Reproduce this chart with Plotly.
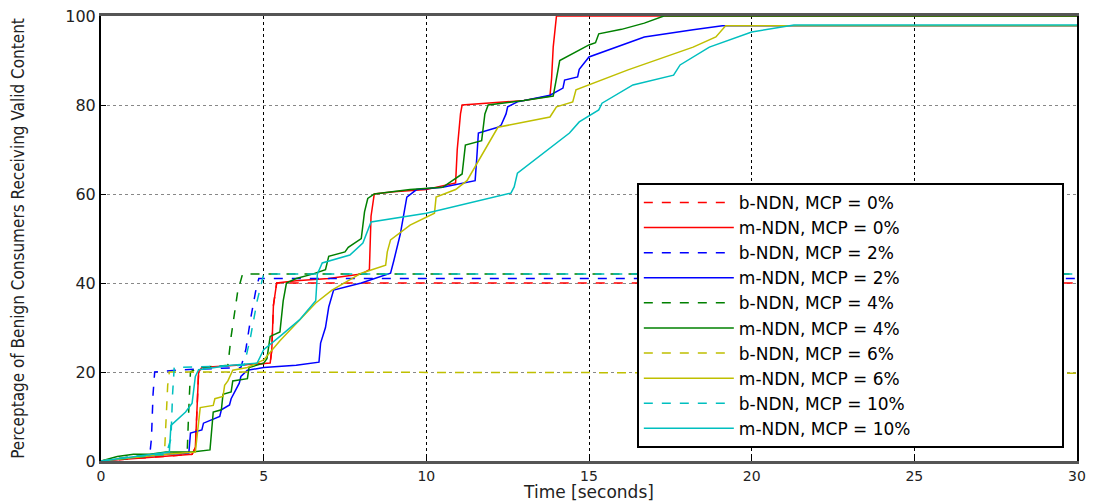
import plotly.graph_objects as go

# ---------------- data ----------------
b0_x = [0, 1, 2, 2.8, 2.9, 2.95, 3.0, 3.1, 4, 5.2, 5.25, 5.3, 5.4, 30]
b0_y = [0, 0.5, 1, 1.5, 3, 10, 20, 21, 21.5, 22, 25, 35, 40, 40]

m0_x = [0, 1, 2, 2.8, 2.9, 2.95, 3.0, 3.1, 4, 5.2, 5.25, 5.3, 5.4, 6, 7, 8, 8.25, 8.3, 8.4,
        9, 10, 10.9, 10.95, 11.05, 11.1, 12, 13, 13.8, 13.85, 13.9, 14.0, 30]
m0_y = [0, 0.5, 1, 1.5, 3, 10, 20, 21, 21.5, 22, 25, 35, 40, 40.5, 41, 42, 43, 55, 60,
        60.5, 61, 62.5, 70, 78, 80, 80.5, 81, 82, 86, 93, 100, 100]

b2_x = [0, 0.5, 1, 1.5, 1.55, 1.6, 1.65, 2.5, 4.3, 4.45, 4.6, 4.75, 4.85, 30]
b2_y = [0, 0.5, 1, 1.5, 5, 15, 20, 20.5, 21, 25, 32, 38, 41, 41]

m2_x = [0, 1, 2, 2.7, 2.75, 3.1, 3.15, 3.65, 3.7, 3.95, 4.0, 4.25, 4.3, 4.5, 5.0, 6.0, 6.7,
        6.75, 6.9, 7.0, 7.15, 8.0, 8.9, 9.0, 9.2, 9.4, 9.7, 10.5, 11.5, 11.55, 11.6, 12.2,
        12.3, 12.45, 12.5, 12.8, 13.8, 14.2, 14.25, 14.65, 14.7, 15.0, 16.0, 16.7, 18.2,
        19.1, 30]
m2_y = [0, 0.8, 1.5, 1.8, 6.3, 7, 8.5, 10, 11.5, 12.6, 14, 17.5, 19, 20.4, 21, 21.5, 22.2,
        26.5, 30, 34.6, 38.4, 40, 42.2, 45, 51, 59.3, 61, 61.5, 63, 68, 73.7, 75,
        75.5, 78, 79.6, 80.7, 82.2, 83.8, 85.6, 86.3, 88, 90.8, 93.5, 95.3, 96.9,
        97.8, 97.8]

b4_x = [0, 1, 2, 2.65, 2.7, 2.75, 3.0, 3.9, 4.0, 4.2, 4.35, 30]
b4_y = [0, 0.8, 1.5, 2, 12, 20, 21, 21.5, 28, 38, 42, 42]

m4_x = [0, 0.5, 1, 1.5, 2, 2.8, 3.35, 3.4, 3.45, 3.7, 3.75, 4.0, 4.05, 4.5, 4.55, 5.0, 5.1,
        5.2, 5.5, 5.6, 5.7, 6.0, 6.5, 6.9, 7.0, 7.5, 7.6, 8.0, 8.1, 8.2, 8.4, 9.5, 10.5,
        11.1, 11.2, 11.7, 11.8, 11.9, 13, 13.9, 14.0, 14.1, 15.0, 15.2, 15.3, 16, 16.7,
        17.3, 30]
m4_y = [0, 1, 1.5, 1.5, 2, 2, 2.5, 8, 11, 11.5, 15, 15.5, 18, 18.5, 21, 22, 23,
        28, 29, 36, 40, 41, 42, 43, 46, 47, 48, 50, 56, 59, 60, 61, 61.5,
        64.5, 71, 72, 78, 80, 81, 82, 86, 90, 93.5, 94, 96, 97, 98.4,
        100, 100]

b6_x = [0, 1, 1.95, 2.0, 2.05, 2.1, 30]
b6_y = [0, 1, 1.5, 8, 17, 20, 19.7]

m6_x = [0, 1, 2, 2.9, 3.0, 3.05, 3.45, 3.5, 3.75, 3.8, 3.9, 4.05, 4.5, 5.0, 5.5, 6.1, 6.6,
        7.1, 8.0, 8.75, 8.8, 8.9, 9.5, 10.25, 10.3, 10.9, 11.25, 12.2, 13.8, 14.0, 14.5,
        14.6, 16.2, 18.2, 18.9, 19.2, 30]
m6_y = [0, 0.8, 1.5, 2, 8, 12, 12.5, 14, 14.5, 17, 18, 20.4, 21, 22.7, 27, 31.7, 35.5,
        38.4, 42.2, 44, 47, 49.7, 53, 55.7, 59.3, 61, 63, 75, 77.3, 79.6, 80.7,
        83.4, 87.9, 93, 95.3, 97.8, 97.8]

b10_x = [0, 1, 2, 2.15, 2.2, 2.25, 4.4, 4.6, 4.8, 5.0, 30]
b10_y = [0, 1, 1.5, 5, 15, 21, 21.5, 28, 36, 42, 42]

m10_x = [0, 1, 1.5, 2.1, 2.15, 2.3, 2.6, 2.8, 2.9, 3.0, 4.0, 4.8, 5.0, 5.5, 6.1, 6.6, 6.65,
         6.8, 7.65, 8.05, 8.3, 10, 12.6, 12.7, 12.8, 14.4, 14.7, 15.3, 15.4, 16.35, 17.6,
         17.8, 18.7, 20.0, 21.3, 30]
m10_y = [0, 1, 1.5, 2, 8, 9, 11, 13, 19, 20.5, 21.5, 22, 25, 28, 31.7, 36, 42,
         44.5, 46.3, 49, 53.7, 55.7, 60.2, 61.6, 64.7, 73.7, 76.2, 78.9, 80.4, 84.5, 86.7,
         89, 93, 96.4, 98, 98]

series = [
    ("b-NDN, MCP = 0%", b0_x, b0_y, "#ff0000", "dash"),
    ("m-NDN, MCP = 0%", m0_x, m0_y, "#ff0000", "solid"),
    ("b-NDN, MCP = 2%", b2_x, b2_y, "#0000ff", "dash"),
    ("m-NDN, MCP = 2%", m2_x, m2_y, "#0000ff", "solid"),
    ("b-NDN, MCP = 4%", b4_x, b4_y, "#008000", "dash"),
    ("m-NDN, MCP = 4%", m4_x, m4_y, "#008000", "solid"),
    ("b-NDN, MCP = 6%", b6_x, b6_y, "#bfbf00", "dash"),
    ("m-NDN, MCP = 6%", m6_x, m6_y, "#bfbf00", "solid"),
    ("b-NDN, MCP = 10%", b10_x, b10_y, "#00bfbf", "dash"),
    ("m-NDN, MCP = 10%", m10_x, m10_y, "#00bfbf", "solid"),
]

x_ticks = [0, 5, 10, 15, 20, 25, 30]
y_ticks = [0, 20, 40, 60, 80, 100]

PAD = "\u00a0" * 27  # widens the legend box to the reference's size

fig = go.Figure()
for name, xs, ys, color, dash in series:
    fig.add_trace(go.Scatter(
        x=xs, y=ys, mode="lines", name=name + PAD,
        line=dict(color=color, width=1.5, dash=dash),
    ))

fig.update_layout(
    width=1101, height=502,
    margin=dict(l=101, r=24, t=16, b=41, autoexpand=False),
    paper_bgcolor="white", plot_bgcolor="white",
    font=dict(family="DejaVu Sans", color="black"),
    legend=dict(
        x=0.549, y=0.625, xanchor="left", yanchor="top",
        bgcolor="white", bordercolor="black", borderwidth=2,
        font=dict(family="DejaVu Sans", size=17, color="black"),
        itemwidth=90, tracegroupgap=0,
    ),
    showlegend=True,
)

fig.update_xaxes(
    range=[0, 30], tickvals=x_ticks, ticktext=[str(v) for v in x_ticks],
    showgrid=True, gridcolor="black", griddash="dot", gridwidth=1,
    showline=True, linecolor="#555555", linewidth=3, mirror=True,
    ticks="inside", ticklen=5, tickcolor="black",
    tickfont=dict(family="DejaVu Sans", size=14, color="#222222"),
    title=dict(text="Time [seconds]", font=dict(family="DejaVu Sans", size=17, color="#222222"),
               standoff=4),
    zeroline=False, automargin=False,
)
fig.update_yaxes(
    range=[0, 100], tickvals=y_ticks, ticktext=[str(v) for v in y_ticks],
    showgrid=True, gridcolor="#888888", griddash="dot", gridwidth=1,
    showline=True, linecolor="black", linewidth=2, mirror=True,
    ticks="inside", ticklen=5, tickcolor="black",
    tickfont=dict(family="DejaVu Sans", size=16, color="#222222"),
    title=dict(text="Perceptage of Benign Consumers Receiving Valid Content",
               font=dict(family="Liberation Sans Narrow, DejaVu Sans Condensed, Liberation Sans", size=17, color="#222222"),
               standoff=36),
    zeroline=False, automargin=False,
)

fig.write_html("out.html")
